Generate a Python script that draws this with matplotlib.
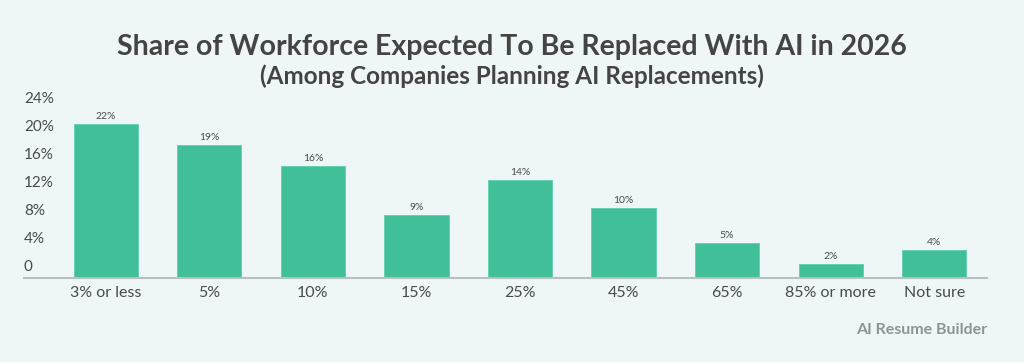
import matplotlib
matplotlib.use("Agg")
import matplotlib.pyplot as plt
import matplotlib.transforms as mtransforms

categories = ["3% or less", "5%", "10%", "15%", "25%", "45%", "65%", "85% or more", "Not sure"]
values = [22, 19, 16, 9, 14, 10, 5, 2, 4]
value_labels = ["22%", "19%", "16%", "9%", "14%", "10%", "5%", "2%", "4%"]
yticks = [0, 4, 8, 12, 16, 20, 24]
ytick_labels = ["0", "4%", "8%", "12%", "16%", "20%", "24%"]

BG = "#EEF6F8"
BAR = "#40BF9A"
TXT = "#4A4A4A"

W, H = 1024, 362
fig = plt.figure(figsize=(W / 100, H / 100), dpi=100, facecolor=BG)
left, right, bottom, top = 24, 987, 278, 110
ax = fig.add_axes([left / W, 1 - bottom / H, (right - left) / W, (bottom - top) / H])
ax.set_facecolor(BG)

x = list(range(len(categories)))
bars = ax.bar(x, values, width=0.62, color=BAR, edgecolor="#5FD0AE", linewidth=0.6)
ax.set_xlim(-0.79, 8.51)
ax.set_ylim(0, 24)

for xi, v, lab in zip(x, values, value_labels):
    ax.annotate(lab, (xi, v), xytext=(0, 2), textcoords="offset points",
                ha="center", va="bottom", fontsize=7.5, color=TXT, family="Lato")

for s in ["top", "right", "left"]:
    ax.spines[s].set_visible(False)
ax.spines["bottom"].set_color("#B9BEBF")
ax.spines["bottom"].set_linewidth(1.5)
ax.set_yticks([])
ax.set_xticks(x)
ax.set_xticklabels(categories, fontsize=11.5, color=TXT, family="Lato")
ax.tick_params(axis="x", length=0, pad=6)

offset = mtransforms.offset_copy(ax.get_yaxis_transform(), fig=fig, x=0, y=3, units="points")
for t, lab in zip(yticks, ytick_labels):
    ax.text(0, t, lab, transform=offset, ha="left", va="bottom", fontsize=11, color=TXT, family="Lato")

fig.text(0.5, 1 - 47 / H, "Share of Workforce Expected To Be Replaced With AI in 2026",
         ha="center", va="center", fontsize=20.5, fontweight="bold", color="#444444", family="Lato")
fig.text(0.5, 1 - 76 / H, "(Among Companies Planning AI Replacements)",
         ha="center", va="center", fontsize=17.5, fontweight="bold", color="#444444", family="Lato")
fig.text(right / W, 1 - 330 / H, "AI Resume Builder", ha="right", va="center",
         fontsize=11.5, fontweight="bold", color="#8E9394", family="Lato")

fig.savefig("out.png", dpi=100, facecolor=BG)
